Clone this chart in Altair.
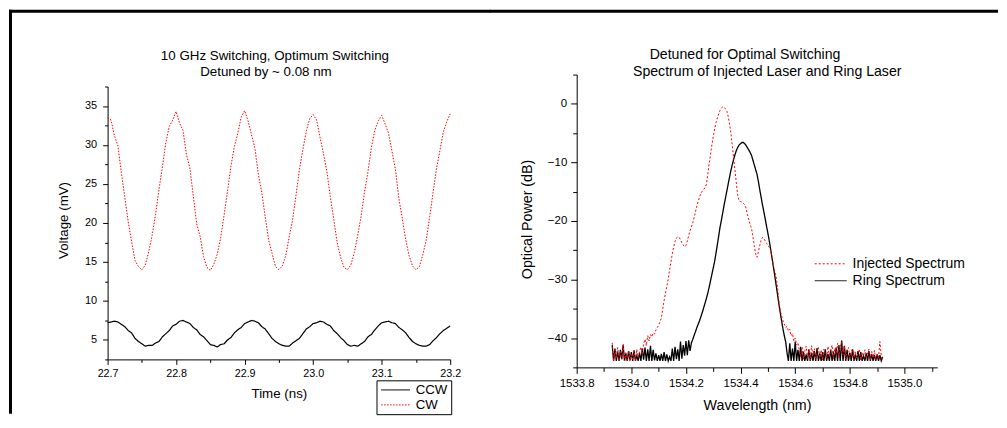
import altair as alt
import numpy as np
import pandas as pd

FONT = "Liberation Sans"

# ---------------- Left panel: 10 GHz switching (time traces) ----------------
TIME_START = 22.7
TIME_STEP = 0.005
left_series = ["CCW", "CW"]

cw_mv = [
    33.5, 33.2, 31.2, 29.9, 26.5, 23.4, 20.2, 17.6, 15.2, 14.4,
    14.0, 14.6, 16.3, 18.4, 21.1, 24.3, 27.2, 30.3, 32.4, 33.2,
    34.3, 32.8, 31.9, 28.8, 27.1, 23.5, 19.9, 18.3, 15.7, 14.3,
    13.9, 14.7, 16.0, 18.1, 21.0, 24.1, 27.3, 29.8, 31.5, 33.6,
    34.4, 33.1, 31.3, 29.6, 26.2, 23.9, 20.8, 17.8, 16.1, 14.4,
    14.0, 14.5, 15.8, 18.2, 20.4, 23.6, 26.9, 29.4, 31.8, 33.4,
    33.9, 33.2, 31.0, 28.9, 26.6, 23.4, 20.5, 17.5, 15.6, 14.3,
    14.0, 14.6, 16.2, 18.4, 20.9, 24.0, 26.6, 29.7, 31.9, 33.1,
    33.8, 32.7, 31.5, 29.2, 26.9, 23.2, 20.6, 17.9, 15.8, 14.5,
    14.0, 14.4, 15.9, 17.8, 20.8, 23.9, 27.0, 29.3, 31.7, 33.0,
    34.0,
]

ccw_mv = [
    7.2, 7.3, 7.4, 7.3, 7.0, 6.7, 6.2, 5.9, 5.2, 4.8,
    4.5, 4.2, 4.3, 4.3, 4.6, 4.8, 5.4, 5.8, 6.2, 6.8,
    7.0, 7.4, 7.5, 7.3, 7.1, 6.6, 6.3, 5.7, 5.4, 4.9,
    4.4, 4.3, 4.1, 4.4, 4.5, 5.0, 5.3, 5.9, 6.3, 6.6,
    7.1, 7.3, 7.5, 7.4, 7.2, 6.7, 6.4, 5.8, 5.2, 4.8,
    4.5, 4.3, 4.2, 4.2, 4.6, 4.9, 5.2, 5.8, 6.4, 6.7,
    7.1, 7.2, 7.4, 7.3, 7.0, 6.8, 6.2, 5.8, 5.3, 4.9,
    4.4, 4.2, 4.3, 4.2, 4.5, 4.8, 5.4, 5.7, 6.3, 6.8,
    7.2, 7.3, 7.4, 7.2, 7.1, 6.6, 6.3, 5.9, 5.3, 4.8,
    4.5, 4.3, 4.2, 4.2, 4.4, 4.9, 5.3, 5.8, 6.2, 6.5,
    6.8,
]

time_ticks = [22.7, 22.75, 22.8, 22.85, 22.9, 22.95, 23.0, 23.05, 23.1, 23.15, 23.2]
volt_ticks = [2.5, 5.0, 7.5, 10.0, 12.5, 15.0, 17.5, 20.0, 22.5, 25.0, 27.5, 30.0, 32.5, 35.0, 37.5]

# ---------------- Right panel: optical spectra ----------------
WL_STEP = 0.005
right_series = ["Injected Spectrum", "Ring Spectrum"]

ring_floor_left = [
    -41.2, -43.9, -41.8, -43.9, -42.3, -43.9, -42.0, -43.6, -41.2, -43.9,
    -42.6, -43.9, -42.2, -43.8, -42.4, -43.9, -42.1, -43.9, -43.0, -43.9,
    -42.5, -43.9, -41.8, -43.7, -41.6, -43.9, -41.9, -43.9, -41.3, -43.9,
    -42.0, -43.8, -42.6, -43.9, -42.9, -43.9, -42.7, -43.9, -42.4, -43.9,
    -42.8, -43.9, -43.2, -43.9, -41.8, -43.9, -41.5, -43.6, -41.9, -43.9,
    -40.6, -43.5, -41.2, -43.0, -40.5, -42.9, -40.4, -42.2, -40.8, -40.2,
]
ring_peak = [
    -39.5, -38.9, -38.2, -37.6, -37.0, -36.3, -35.6, -34.8, -34.0, -33.2,
    -32.3, -31.3, -30.2, -29.1, -28.0, -26.9, -25.5, -24.0, -22.5, -21.0,
    -19.8, -18.5, -17.2, -16.0, -14.8, -13.6, -12.4, -11.3, -10.3, -9.4,
    -8.6, -7.9, -7.4, -7.0, -6.8, -6.6, -6.6, -6.8, -7.1, -7.5,
    -7.9, -8.3, -8.8, -9.6, -10.4, -11.2, -12.0, -13.2, -14.6, -15.9,
    -17.2, -18.4, -19.6, -20.9, -22.1, -23.4, -24.8, -26.3, -27.8, -29.3,
    -30.9, -32.5, -34.1, -35.6, -37.0, -38.4, -39.6, -40.6,
]
ring_floor_right = [
    -42.5, -43.9, -40.9, -43.9, -41.8, -43.9, -40.6, -43.9, -42.0, -43.9,
    -41.5, -43.9, -42.3, -43.9, -42.8, -43.9, -41.9, -43.9, -42.5, -43.9,
    -42.2, -43.9, -41.7, -43.9, -42.6, -43.9, -42.4, -43.9, -41.9, -43.9,
    -42.7, -43.9, -42.0, -43.9, -42.3, -43.9, -41.6, -43.9, -41.2, -43.9,
    -40.4, -43.9, -41.3, -43.9, -42.0, -43.9, -42.5, -43.9, -41.9, -43.9,
    -42.8, -43.9, -42.2, -43.9, -42.4, -43.9, -43.0, -43.9, -42.6, -43.9,
    -42.2, -43.9, -42.7, -43.9, -42.9, -43.9, -42.8, -43.9, -42.9, -43.9,
    -43.2,
]

inj_floor_left = [
    -40.8, -43.9, -42.0, -43.5, -41.6, -43.9, -42.3, -43.6, -41.0, -43.9,
    -42.5, -43.8, -42.1, -43.9, -42.8, -43.6, -42.2, -43.9, -41.9, -43.3,
    -42.4, -41.5, -42.9, -41.0,
]
inj_peak = [
    -40.2, -41.3, -39.6, -40.5, -39.4, -39.8, -39.1, -39.3, -38.6, -38.2,
    -37.8, -37.2, -36.6, -35.0, -33.6, -32.3, -31.2, -29.9, -28.4, -27.0,
    -25.6, -24.4, -23.5, -22.9, -22.7, -22.8, -23.2, -23.7, -24.1, -24.4,
    -24.2, -23.4, -22.5, -21.7, -21.0, -20.3, -19.4, -18.4, -17.4, -16.6,
    -15.9, -15.3, -14.9, -14.6, -14.3, -13.7, -12.0, -10.2, -8.6, -7.0,
    -5.6, -4.3, -3.2, -2.4, -1.7, -1.1, -0.7, -0.5, -0.6, -0.9,
    -1.3, -2.2, -3.6, -5.2, -7.3, -9.5, -11.6, -13.8, -15.8, -16.6,
    -16.7, -16.8, -17.0, -17.2, -17.8, -18.9, -19.8, -20.6, -21.3, -22.6,
    -24.2, -25.6, -26.2, -25.3, -24.2, -23.3, -22.8, -23.0, -23.4, -23.8,
    -24.2, -24.5, -25.1, -26.3, -27.5, -28.6, -29.5, -31.3, -33.6, -35.3,
    -36.2, -37.0, -37.6, -38.2, -38.0, -38.8, -38.5, -39.6, -39.2, -40.5,
    -40.0, -41.2, -40.8,
]
inj_floor_right = [
    -42.0, -43.2, -41.5, -43.6, -42.2, -41.4, -43.5, -42.0, -43.8, -41.3,
    -42.9, -41.8, -43.7, -42.3, -41.6, -43.4, -42.0, -43.8, -41.9, -42.6,
    -43.5, -41.4, -43.2, -42.1, -41.2, -43.6, -41.7, -42.8, -40.9, -43.4,
    -41.5, -40.7, -42.9, -41.3, -43.6, -42.0, -41.6, -43.5, -42.3, -41.8,
    -43.7, -42.2, -43.4, -42.6, -41.9, -43.8, -42.4, -43.1, -42.0, -43.6,
    -42.5, -41.9, -43.7, -42.3, -43.3, -42.1, -43.8, -42.6, -43.4, -40.6,
    -43.0, -43.7,
]

ring_segments = [(1533.930, ring_floor_left), (1534.230, ring_peak), (1534.570, ring_floor_right)]
inj_segments = [(1533.930, inj_floor_left), (1534.050, inj_peak), (1534.615, inj_floor_right)]

wl_ticks = [1533.8, 1533.9, 1534.0, 1534.1, 1534.2, 1534.3, 1534.4, 1534.5,
            1534.6, 1534.7, 1534.8, 1534.9, 1535.0, 1535.1]
db_ticks = [-45, -40, -35, -30, -25, -20, -15, -10, -5, 0, 5]

# ---------------- Tables ----------------
t_grid = np.round(TIME_START + TIME_STEP * np.arange(len(cw_mv)), 4)
left_df = pd.DataFrame({
    "t": np.concatenate([t_grid, t_grid]),
    "v": ccw_mv + cw_mv,
    "trace": ["CCW"] * len(ccw_mv) + ["CW"] * len(cw_mv),
})


def seg_frame(segments, name):
    rows = []
    for start, vals in segments:
        for i, v in enumerate(vals):
            rows.append({"wl": round(start + WL_STEP * i, 4), "db": v, "spectrum": name})
    return rows


right_df = pd.DataFrame(seg_frame(ring_segments, "Ring Spectrum") + seg_frame(inj_segments, "Injected Spectrum"))

one = alt.Data(values=[{}])


def txt(x, y, s, size):
    return alt.Chart(one).mark_text(font=FONT, fontSize=size, color="black",
                                    align="center", baseline="middle").encode(
        x=alt.value(x), y=alt.value(y), text=alt.value(s))


def frame_rule(**enc):
    return alt.Chart(one).mark_rule(color="black", strokeWidth=3, strokeCap="square").encode(**enc)


def make_axis(values, major_test, label_expr, maj, mnr, lsize, lpad, title, tsize, tx, ty, **extra):
    return alt.Axis(
        values=values, grid=False, labelExpr=label_expr,
        tickSize={"condition": {"test": major_test, "value": maj}, "value": mnr},
        tickColor="black", tickWidth=1, domainColor="black", domainWidth=1,
        labelFont=FONT, labelFontSize=lsize, labelColor="black", labelPadding=lpad,
        labelOverlap=False, labelFlush=False,
        title=title, titleFont=FONT, titleFontSize=tsize, titleFontWeight="normal",
        titleColor="black", titleX=tx, titleY=ty, titleAlign="center", titleBaseline="middle",
        **extra,
    )


# ---------------- Left chart ----------------
# plot area starts 12 px above the top of the voltage axis (headroom above 37.5 mV);
# the axis line is dashed so that only the 2.5-37.5 mV part (274 px) is drawn.
T_MAJ = "abs(datum.value*10 - round(datum.value*10)) < 0.001"
V_MAJ = "datum.value % 5 == 0"
left_x = alt.X("t:Q", scale=alt.Scale(domain=[22.7, 23.2], nice=False, zero=False),
               axis=make_axis(time_ticks, T_MAJ, f"{T_MAJ} ? format(datum.value, '.1f') : ''",
                              5, 3, 10.8, 3, "Time (ns)", 13.4, 172, 34))
left_y = alt.Y("v:Q", scale=alt.Scale(domain=[2.5, 39.0333], nice=False, zero=False),
               axis=make_axis(volt_ticks, V_MAJ, f"{V_MAJ} ? format(datum.value, 'd') : ''",
                              5, 3, 11, 6, "Voltage (mV)", 13.4, -44, 146,
                              domainDash=[274, 60]))
left_legend = alt.Legend(title=None, orient="none", legendX=270, legendY=307,
                         strokeColor="black", fillColor="white", padding=3,
                         labelFont=FONT, labelFontSize=13.3, labelColor="black",
                         symbolType="M-1,0H4.8", symbolSize=100, symbolStrokeWidth=1,
                         rowPadding=1, labelOffset=23)
left_color = alt.Color("trace:N", scale=alt.Scale(domain=left_series, range=["black", "red"]),
                       legend=left_legend)
left_dash = alt.StrokeDash("trace:N", scale=alt.Scale(domain=left_series, range=[[1, 0], [1.5, 1.5]]),
                           legend=left_legend)
left_base = alt.Chart(left_df).encode(x=left_x, y=left_y, color=left_color, strokeDash=left_dash)
ccw_line = left_base.transform_filter(alt.datum.trace == "CCW").mark_line(strokeWidth=1.2)
cw_line = left_base.transform_filter(alt.datum.trace == "CW").mark_line(strokeWidth=1)

left = alt.layer(
    ccw_line, cw_line,
    frame_rule(x=alt.value(-97.5), y=alt.value(-63.5), y2=alt.value(339)),
    frame_rule(x=alt.value(-97.5), x2=alt.value(383), y=alt.value(-63.5)),
    txt(168, -19, "10 GHz Switching, Optimum Switching", 13.4),
    txt(159, -3, "Detuned by ~ 0.08 nm", 13.4),
).properties(width=344, height=286)

# ---------------- Right chart ----------------
W_MAJ = "round(datum.value*10) % 2 == 0"
D_MAJ = "datum.value % 10 == 0"
right_x = alt.X("wl:Q", scale=alt.Scale(domain=[1533.8, 1535.12], nice=False, zero=False),
                axis=make_axis(wl_ticks, W_MAJ, f"{W_MAJ} ? format(datum.value, '.1f') : ''",
                               6, 4, 11.5, 4, "Wavelength (nm)", 14.3, 181, 38))
right_y = alt.Y("db:Q", scale=alt.Scale(domain=[-45, 5], nice=False, zero=False),
                axis=make_axis(db_ticks, D_MAJ, f"{D_MAJ} ? format(datum.value, 'd') : ''",
                               6, 4, 11.5, 4, "Optical Power (dB)", 14.3, -49, 145))
right_legend = alt.Legend(title=None, orient="none", legendX=237, legendY=183, padding=0,
                          labelFont=FONT, labelFontSize=14, labelColor="black",
                          symbolType="M-1,0H5.4", symbolSize=100, symbolStrokeWidth=1,
                          rowPadding=3, labelOffset=26)
right_color = alt.Color("spectrum:N", scale=alt.Scale(domain=right_series, range=["red", "black"]),
                        legend=right_legend)
right_dash = alt.StrokeDash("spectrum:N", scale=alt.Scale(domain=right_series, range=[[2, 2], [1, 0]]),
                            legend=right_legend)
right_base = alt.Chart(right_df).encode(x=right_x, y=right_y, color=right_color, strokeDash=right_dash)
ring_line = right_base.transform_filter(alt.datum.spectrum == "Ring Spectrum").mark_line(strokeWidth=1.3)
inj_line = right_base.transform_filter(alt.datum.spectrum == "Injected Spectrum").mark_line(strokeWidth=1)

right = alt.layer(
    ring_line, inj_line,
    frame_rule(x=alt.value(-86), x2=alt.value(421.5), y=alt.value(-63.5)),
    txt(169, -19.3, "Detuned for Optimal Switching", 14.2),
    txt(191.3, -2.3, "Spectrum of  Injected Laser and Ring Laser", 14.2),
).properties(width=362, height=294)

chart = alt.concat(left, right, columns=2, spacing=-4).resolve_scale(
    color="independent", strokeDash="independent"
).resolve_legend(
    color="independent", strokeDash="independent"
).properties(
    padding=0, background="white"
).configure_view(stroke=None)

chart.save("out.html", embed_options={"renderer": "svg", "actions": False})
